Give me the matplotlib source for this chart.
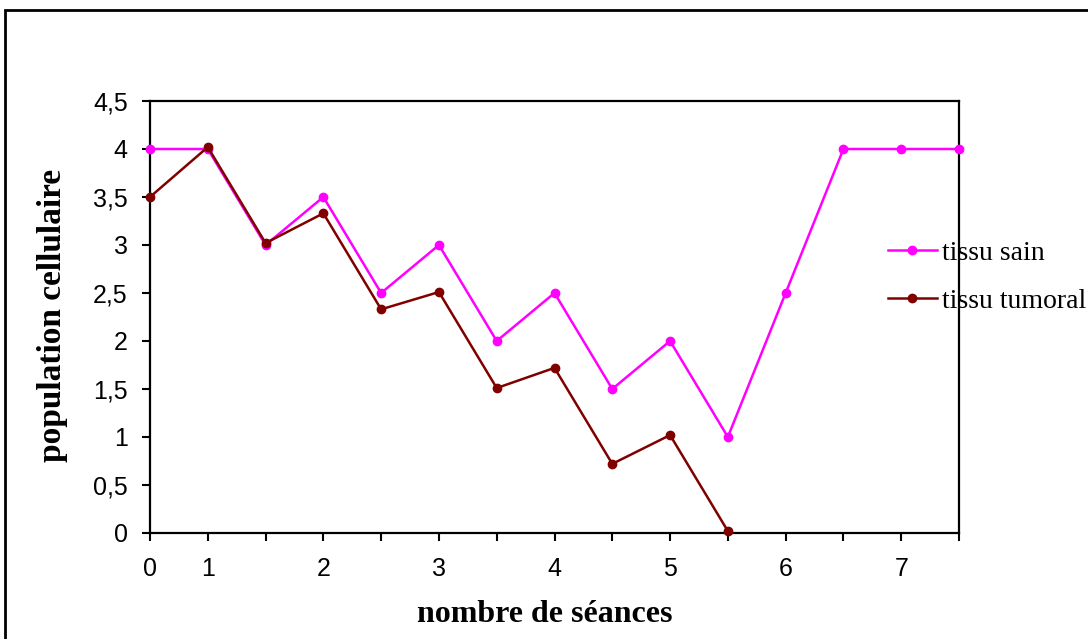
import matplotlib.pyplot as plt
from matplotlib.ticker import FuncFormatter
from matplotlib.patches import Rectangle

# donnees
seances = list(range(15))
etiquettes = ["0", "1", "", "2", "", "3", "", "4", "", "5", "", "6", "", "7", ""]
tissu_sain = [4, 4, 3, 3.5, 2.5, 3, 2, 2.5, 1.5, 2, 1, 2.5, 4, 4, 4]
tissu_tumoral = [3.5, 4.02, 3.02, 3.33, 2.33, 2.51, 1.51, 1.72, 0.72, 1.02, 0.02]

fig = plt.figure(figsize=(10.88, 6.39), dpi=100)
ax = fig.add_axes([150/1088, 1 - 533/639, (959-150)/1088, (533-101)/639])

ax.plot(seances, tissu_sain, color='#FF00FF', lw=1.8, marker='o', ms=6,
        label='tissu sain', clip_on=False, zorder=3)
ax.plot(seances[:len(tissu_tumoral)], tissu_tumoral, color='#800000', lw=1.8,
        marker='o', ms=6, label='tissu tumoral', clip_on=False, zorder=4)

ax.set_xlim(0, 14)
ax.set_ylim(0, 4.5)
ax.set_xticks(seances)
ax.set_xticklabels(etiquettes)
ax.set_yticks([i * 0.5 for i in range(10)])
ax.yaxis.set_major_formatter(FuncFormatter(lambda v, p: ('%g' % v).replace('.', ',')))

for s in ax.spines.values():
    s.set_linewidth(1.6)
    s.set_color('black')
ax.tick_params(axis='both', direction='out', length=6, width=1.5,
               labelsize=18, colors='black')
ax.tick_params(axis='x', pad=11)
ax.tick_params(axis='y', pad=10)
for t in ax.get_xticklabels() + ax.get_yticklabels():
    t.set_fontfamily('Liberation Sans')

ax.set_xlabel('nombre de séances', fontfamily='Liberation Serif', fontweight='bold',
              fontsize=23)
ax.set_ylabel('population cellulaire', fontfamily='Liberation Serif', fontweight='bold',
              fontsize=24)
ax.xaxis.set_label_coords(545/1088, 1 - 615/639, transform=fig.transFigure)
ax.xaxis.label.set_va('center')
ax.yaxis.set_label_coords(52/1088, 1 - 315/639, transform=fig.transFigure)
ax.yaxis.label.set_va('center')

leg = ax.legend(loc='center left', bbox_to_anchor=(888/1088, 1 - 277/639),
                bbox_transform=fig.transFigure, frameon=False,
                prop={'family': 'Liberation Serif', 'size': 20},
                borderpad=0, borderaxespad=0,
                handlelength=1.76, handletextpad=0.18, labelspacing=0.8)

# cadre exterieur
fig.patches.append(Rectangle((5/1088, -0.1), 1.2, 1 - 10/639 + 0.1,
                             transform=fig.transFigure, fill=False,
                             edgecolor='black', lw=2))

fig.savefig('out.png', dpi=100)
